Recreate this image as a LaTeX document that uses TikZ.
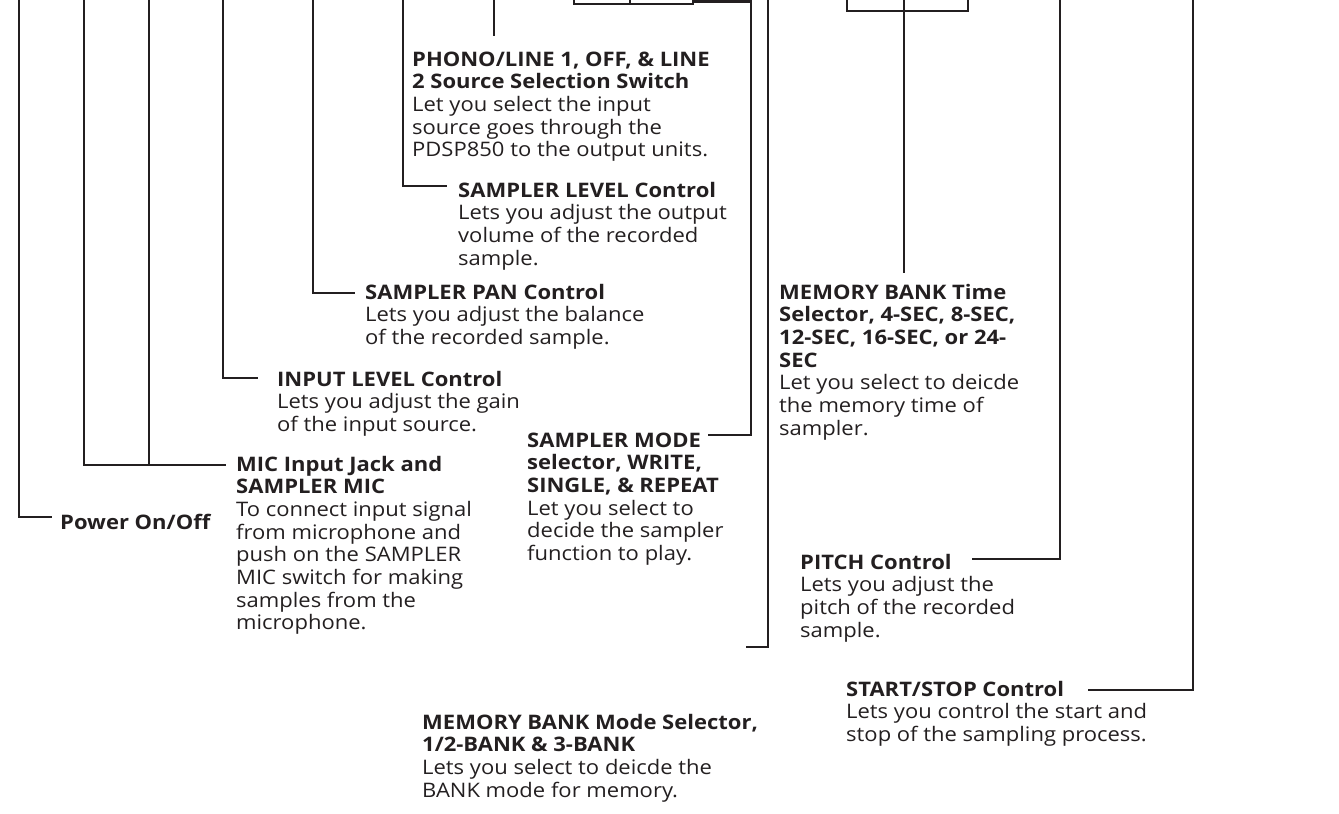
\documentclass[tikz,border=0pt]{standalone}
\usepackage{fontspec}
\setmainfont{Open Sans}[FakeStretch=1.1]
\definecolor{ink}{HTML}{231F20}
\newcommand{\lines}[1]{\begin{tabular}[t]{@{}l@{}}#1\end{tabular}}
\begin{document}
\begin{tikzpicture}[x=1pt,y=-1pt,
  wire/.style={draw=ink, line width=2.2pt},
  lbl/.style={anchor=base west, inner sep=0pt, text=ink, font=\fontsize{20}{22.7}\selectfont},
  swbox/.style={draw=ink, line width=2.2pt, rectangle, inner sep=0pt, minimum height=18pt, anchor=south west}
]
\useasboundingbox (0,0) rectangle (1339,814);

% labels
\node[lbl] (power) at (60,529) {\textbf{Power On/Off}};
\node[lbl] (mic) at (236,471) {\lines{\textbf{MIC Input Jack and}\\ \textbf{SAMPLER MIC}\\ To connect input signal\\ from microphone and\\ push on the SAMPLER\\ MIC switch for making\\ samples from the\\ microphone.}};
\node[lbl] (input) at (277,386) {\lines{\textbf{INPUT LEVEL Control}\\ Lets you adjust the gain\\ of the input source.}};
\node[lbl] (pan) at (365,299) {\lines{\textbf{SAMPLER PAN Control}\\ Lets you adjust the balance\\ of the recorded sample.}};
\node[lbl] (level) at (458,197) {\lines{\textbf{SAMPLER LEVEL Control}\\ Lets you adjust the output\\ volume of the recorded\\ sample.}};
\node[lbl] (phono) at (412,66) {\lines{\textbf{PHONO/LINE 1, OFF, \& LINE}\\ \textbf{2 Source Selection Switch}\\ Let you select the input\\ source goes through the\\ PDSP850 to the output units.}};
\node[lbl] (mode) at (527,447) {\lines{\textbf{SAMPLER MODE}\\ \textbf{selector, WRITE,}\\ \textbf{SINGLE, \& REPEAT}\\ Let you select to\\ decide the sampler\\ function to play.}};
\node[lbl] (time) at (779,299) {\lines{\textbf{MEMORY BANK Time}\\ \textbf{Selector, 4-SEC, 8-SEC,}\\ \textbf{12-SEC, 16-SEC, or 24-}\\ \textbf{SEC}\\ Let you select to deicde\\ the memory time of\\ sampler.}};
\node[lbl] (pitch) at (800,569) {\lines{\textbf{PITCH Control}\\ Lets you adjust the\\ pitch of the recorded\\ sample.}};
\node[lbl] (start) at (846,696) {\lines{\textbf{START/STOP Control}\\ Lets you control the start and\\ stop of the sampling process.}};
\node[lbl] (bank) at (422,729) {\lines{\textbf{MEMORY BANK Mode Selector,}\\ \textbf{1/2-BANK \& 3-BANK}\\ Lets you select to deicde the\\ BANK mode for memory.}};

% switch bodies at the top edge
\node[swbox, minimum width=119pt] (sw1) at (573,5) {};
\node[swbox, minimum width=121pt] (sw2) at (846,12) {};

% coordinates
\coordinate (pwT) at (19,-4);   \coordinate (pwE) at (52,517);
\coordinate (micA) at (84,-4);  \coordinate (micB) at (149,-4); \coordinate (micE) at (226,465);
\coordinate (inT) at (223,-4);  \coordinate (inE) at (258,378);
\coordinate (panT) at (313,-4); \coordinate (panE) at (355,293);
\coordinate (lvT) at (403,-4);  \coordinate (lvE) at (447,186);
\coordinate (phT) at (494,-4);  \coordinate (phE) at (494,36);
\coordinate (d1T) at (630,-8);  \coordinate (d1B) at (630,5);
\coordinate (s1R) at (692,1.5); \coordinate (mdC) at (751,435); \coordinate (mdE) at (708,435);
\coordinate (bkT) at (768,-4);  \coordinate (bkE) at (746,647);
\coordinate (d2T) at (904,-8);  \coordinate (d2B) at (904,273);
\coordinate (ptT) at (1060,-4); \coordinate (ptE) at (972,559);
\coordinate (stT) at (1193,-4); \coordinate (stE) at (1088,690);

% connectors
\draw[wire] (pwT) |- (pwE);
\draw[wire] (micA) |- (micE);
\draw[wire] (micB) -- (micB |- micE);
\draw[wire] (inT) |- (inE);
\draw[wire] (panT) |- (panE);
\draw[wire] (lvT) |- (lvE);
\draw[wire] (phT) -- (phE);
\draw[wire] (d1T) -- (d1B);
\draw[wire] (s1R) -| (mdC) -- (mdE);
\draw[wire] (bkT) |- (bkE);
\draw[wire] (d2T) -- (d2B);
\draw[wire] (ptT) |- (ptE);
\draw[wire] (stT) |- (stE);
\end{tikzpicture}
\end{document}
